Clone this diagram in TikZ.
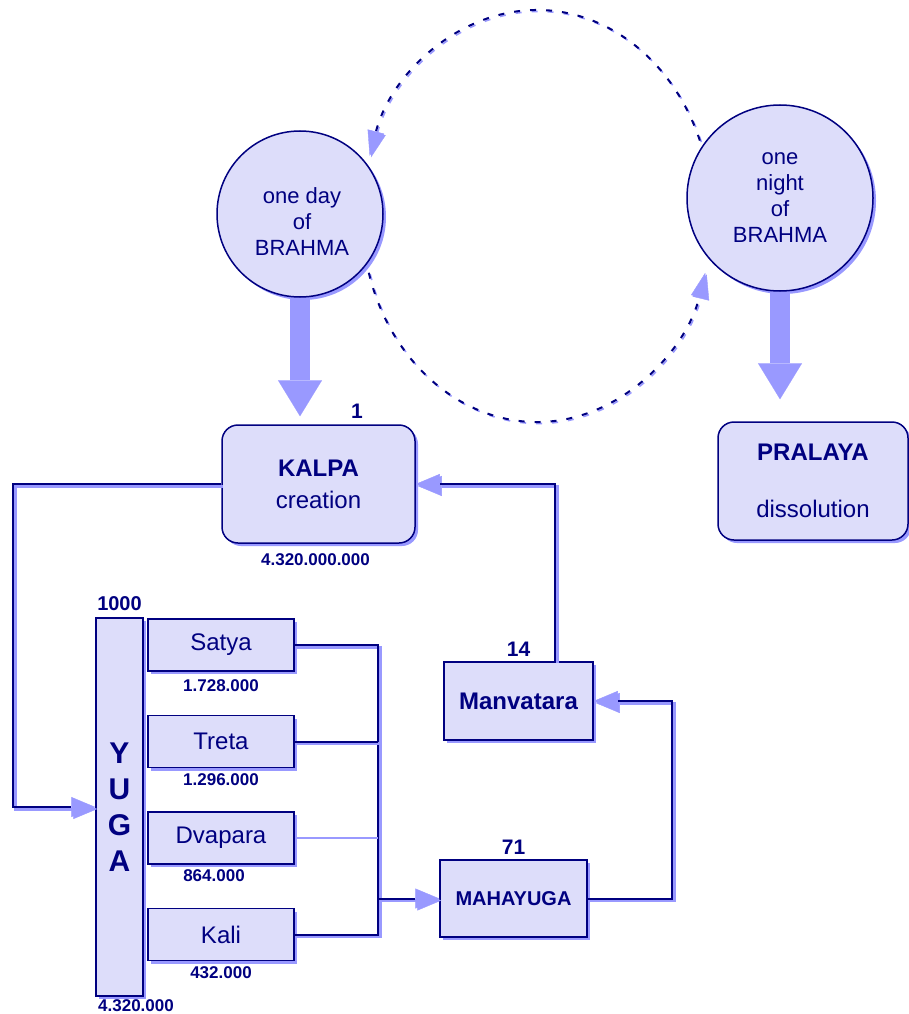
\documentclass[tikz,border=0pt]{standalone}
\usepackage{fontspec}
\setmainfont{Liberation Sans}
\usetikzlibrary{positioning,arrows.meta,shadows}
\definecolor{navy}{RGB}{0,0,128}
\definecolor{lav}{RGB}{221,221,250}
\definecolor{lblue}{RGB}{153,153,255}
\newcommand{\circtxt}{\fontsize{22}{26}\selectfont}
\newcommand{\boxtxt}{\fontsize{24}{28}\selectfont}
\newcommand{\numtxt}{\fontsize{21}{24}\selectfont\bfseries}
\newcommand{\valtxt}{\fontsize{17}{20}\selectfont\bfseries}
\newcommand{\yugatxt}{\fontsize{30}{36}\selectfont\bfseries}
\newcommand{\mahatxt}{\fontsize{20}{24}\selectfont\bfseries}

\begin{document}
\begin{tikzpicture}[x=1pt, y=-1pt, node distance=43pt,
    every node/.style={text=navy, inner sep=0pt},
    lift/.style={drop shadow={shadow xshift=3pt, shadow yshift=-3pt, fill=lblue, opacity=1}},
    disc/.style={circle, draw=navy, fill=lav, line width=1.5pt, lift},
    box/.style={draw=navy, fill=lav, line width=1.5pt, lift},
    sub/.style={box, minimum width=146pt, minimum height=52pt, font=\boxtxt},
    conn/.style={draw=navy, line width=2pt,
      preaction={draw=lblue, line width=3pt, transform canvas={shift={(2pt,-2pt)}}}},
    headed/.style={-{Triangle[length=24pt, width=20pt, line width=0.4pt, color=lblue]}},
    ringline/.style={draw=navy, line width=2pt, dash pattern=on 6pt off 10pt,
      -{Triangle[length=25pt, width=17pt, line width=0.4pt, color=lblue]},
      preaction={draw=lblue, line width=1.6pt, dash pattern=on 6pt off 10pt,
        transform canvas={shift={(1.5pt,-1.5pt)}}}},
    bigarrow/.style={draw=lblue, line width=20pt, -{Triangle[length=36pt, width=44pt, line width=0.1pt]}},
    num/.style={font=\numtxt}, val/.style={font=\valtxt}]
  \useasboundingbox (0,0) rectangle (909,1014);

  % Day and night of Brahma, turning round
  \coordinate (ring) at (537,216);
  \draw[ringline] (ring) ++(-8:175 and 206) arc[start angle=-8, end angle=-163, x radius=175, y radius=206];
  \draw[ringline] (ring) ++(164:175 and 206) arc[start angle=164, end angle=16, x radius=175, y radius=206];

  \node (day) [disc, minimum size=166pt] at (300,214) {};
  \node (daytxt) [align=center, font=\circtxt] at (302,222) {one day\\of\\BRAHMA};
  \node (night) [disc, minimum size=186pt, align=center, font=\circtxt] at (780,198) {one\\night\\of\\BRAHMA};

  % Creation and dissolution
  \node (kalpa) [box, rounded corners=16pt, minimum width=193pt, minimum height=118pt, align=center, font=\boxtxt] at (318.5,484) {\textbf{KALPA}\\[4pt]creation};
  \node (pralaya) [box, rounded corners=16pt, minimum width=190pt, minimum height=118pt, align=center, font=\boxtxt] at (813,481) {\textbf{PRALAYA}\\[29pt]dissolution};
  \node (kalpanum) [num, above=6pt of kalpa.north, xshift=38.5pt] {1};
  \node (kalpaval) [val, below=10pt of kalpa, xshift=-3pt] {4.320.000.000};

  \draw[bigarrow, shorten >=8pt] (day.south) -- (day.south |- kalpa.north);
  \draw[bigarrow, shorten >=22pt] (night.south) -- (night.south |- pralaya.north);

  % The four yugas
  \node (yuga) [box, minimum width=47pt, minimum height=378pt, align=center, font=\yugatxt] at (119.5,807) {Y\\U\\G\\A};
  \node (yuganum) [num, font=\fontsize{20}{24}\selectfont\bfseries, above=6pt of yuga] {1000};
  \node (yugaval) [val, below=3pt of yuga, xshift=16.5pt] {4.320.000};

  \node (satya) [sub] at (221,645) {Satya};
  \node (treta) [sub, below=of satya] {Treta};
  \node (dvapara) [sub, below=of treta] {Dvapara};
  \node (kali) [sub, below=of dvapara] {Kali};
  \node (satyaval) [val, below=8pt of satya] {1.728.000};
  \node (tretaval) [val, below=5pt of treta] {1.296.000};
  \node (dvaparaval) [val, below=5pt of dvapara, xshift=-7pt] {864.000};
  \node (kalival) [val, below=5pt of kali] {432.000};

  % Mahayuga and Manvatara
  \node (maha) [box, minimum width=147pt, minimum height=77pt, font=\mahatxt] at (513.5,898.5) {MAHAYUGA};
  \node (manv) [box, minimum width=149pt, minimum height=78pt, font=\boxtxt\bfseries] at (518.5,701) {Manvatara};
  \node (mahanum) [num, above=5pt of maha] {71};
  \node (manvnum) [num, above=5pt of manv] {14};

  % Connectors
  \coordinate (bus) at (378,898.5);
  \coordinate (rloop) at (672,0);
  \coordinate (lloop) at (13,0);
  \coordinate (up) at (555,0);
  \draw[conn] (satya.east) -- (satya.east -| bus) -- (kali.east -| bus) -- (kali.east);
  \draw[conn] (treta.east) -- (treta.east -| bus);
  \draw[draw=lblue, line width=2.5pt] (dvapara.east) -- (dvapara.east -| bus);
  \draw[conn, headed] (bus) -- (maha.west);
  \draw[conn, headed] (maha.east) -| (rloop |- manv.east) -- (manv.east);
  \draw[conn, headed] (manv.north -| up) |- (kalpa.east);
  \draw[conn, headed] (kalpa.west) -| (lloop |- yuga.west) -- (yuga.west);
\end{tikzpicture}
\end{document}
